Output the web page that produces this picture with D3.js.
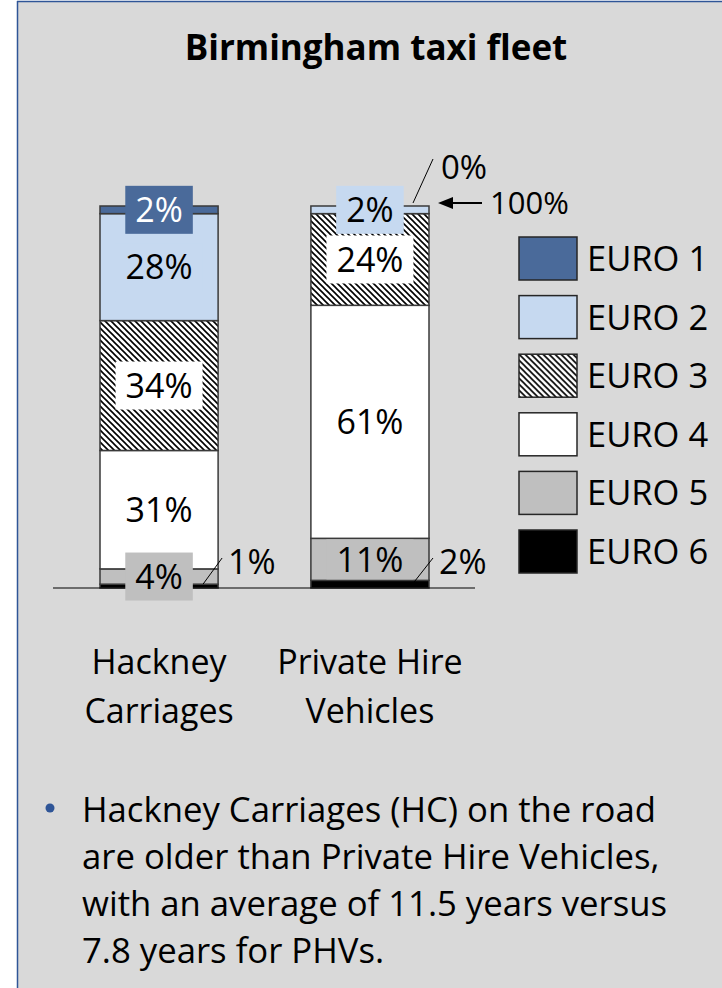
<!DOCTYPE html>
<html>
<head>
<meta charset="utf-8">
<script src="https://cdn.jsdelivr.net/npm/d3@7"></script>
<style>
  body { margin: 0; background: #fff; }
  svg { display: block; }
  text { font-family: "Open Sans", sans-serif; }
</style>
</head>
<body>
<svg id="chart" width="722" height="988"></svg>
<script>
const title = "Birmingham taxi fleet";
const categories = ["Hackney Carriages", "Private Hire Vehicles"];
const categoryLines = [["Hackney", "Carriages"], ["Private Hire", "Vehicles"]];
const series = ["EURO 1", "EURO 2", "EURO 3", "EURO 4", "EURO 5", "EURO 6"];
// share of fleet (%) per euro class, same order as series
const hackneyShares = [2, 28, 34, 31, 4, 1];
const privateHireShares = [0, 2, 24, 61, 11, 2];
const totalLabel = "100%";
const bulletLines = [
  "Hackney Carriages (HC) on the road",
  "are older than Private Hire Vehicles,",
  "with an average of 11.5 years versus",
  "7.8 years for PHVs."
];

const svg = d3.select("#chart");
const W = 722, H = 988;

// panel
svg.append("rect").attr("x", 17).attr("y", 1).attr("width", W - 17).attr("height", H)
  .attr("fill", "#d9d9d9");
svg.append("line").attr("x1", 17.5).attr("x2", 17.5).attr("y1", 1).attr("y2", H)
  .attr("stroke", "#2f5597").attr("stroke-width", 1.5);
svg.append("line").attr("x1", 17).attr("x2", W).attr("y1", 1.5).attr("y2", 1.5)
  .attr("stroke", "#2f5597").attr("stroke-width", 1.5);

// hatch for EURO 3
const defs = svg.append("defs");
const pat = defs.append("pattern").attr("id", "hatch")
  .attr("patternUnits", "userSpaceOnUse").attr("width", 6).attr("height", 6);
pat.append("rect").attr("width", 6).attr("height", 6).attr("fill", "#fff");
pat.append("path").attr("d", "M0,0L6,6M5,-1L7,1M-1,5L1,7")
  .attr("stroke", "#000").attr("stroke-width", 1.6);

const color = d3.scaleOrdinal()
  .domain(series)
  .range(["#4a6a9a", "#c6d9f0", "url(#hatch)", "#ffffff", "#bfbfbf", "#000000"]);
const boxFill = s => (s === "EURO 3" || s === "EURO 4") ? "#ffffff" : color(s);
const textFill = s => s === "EURO 1" ? "#ffffff" : "#000000";

svg.append("text")
  .attr("x", 376).attr("y", 60)
  .attr("text-anchor", "middle")
  .attr("font-size", 35).attr("font-weight", 700)
  .text(title);

const rows = categories.map((c, i) => {
  const vals = [hackneyShares, privateHireShares][i];
  const r = { category: c };
  series.forEach((s, j) => r[s] = vals[j]);
  return r;
});
const layers = d3.stack().keys(series.slice().reverse())(rows);

const x = d3.scaleBand().domain(categories).range([100, 429]).paddingInner(0.44).paddingOuter(0);
const y = d3.scaleLinear().domain([0, 100]).range([588, 206]);
const bw = x.bandwidth();

// stacked segments
const layerG = svg.selectAll(".layer").data(layers).enter().append("g").attr("class", "layer");
layerG.selectAll("rect")
  .data(d => d.map(v => Object.assign(v, { key: d.key })))
  .enter().append("rect")
  .attr("x", d => x(d.data.category))
  .attr("y", d => y(d[1]))
  .attr("width", bw)
  .attr("height", d => y(d[0]) - y(d[1]))
  .attr("fill", d => color(d.key))
  .attr("stroke", "#3a3a3a")
  .attr("stroke-width", 1.5);

// axis baseline
svg.append("line")
  .attr("x1", x.range()[0] - 47).attr("x2", x.range()[1] + 46)
  .attr("y1", y(0)).attr("y2", y(0))
  .attr("stroke", "#000").attr("stroke-width", 1.2);

// value labels
const allSegs = layers.flatMap(l => l);
const fs = 34;
allSegs.forEach(d => {
  const v = d[1] - d[0];
  const left = x(d.data.category), right = left + bw;
  const label = v + "%";
  if (v === 0) {
    const top = y(d[1]);
    svg.append("line").attr("x1", right - 16).attr("y1", top - 3)
      .attr("x2", right + 4).attr("y2", top - 47)
      .attr("stroke", "#000").attr("stroke-width", 1);
    svg.append("text").attr("x", right + 12).attr("y", top - 27)
      .attr("font-size", 33).text(label);
  } else if (d.key === "EURO 6") {
    const cy = (y(d[0]) + y(d[1])) / 2;
    svg.append("line").attr("x1", right - 15).attr("y1", cy - 2)
      .attr("x2", right + 4).attr("y2", y(0) - 30)
      .attr("stroke", "#000").attr("stroke-width", 1);
    svg.append("text").attr("x", right + 10).attr("y", y(0) - 14)
      .attr("font-size", fs).text(label);
  } else {
    const cx = left + bw / 2, cy = (y(d[0]) + y(d[1])) / 2;
    const segH = y(d[0]) - y(d[1]);
    const g = svg.append("g");
    const box = g.append("rect").attr("fill", boxFill(d.key));
    const t = g.append("text").attr("x", cx).attr("y", cy + fs * 0.36)
      .attr("text-anchor", "middle").attr("font-size", fs)
      .attr("fill", textFill(d.key)).text(label);
    const tw = t.node().getComputedTextLength() + 20;
    // label box stays inside a segment that is tall enough to hold the text
    const bh = segH > 30 ? Math.min(48, segH - 2) : 48;
    box.attr("x", cx - tw / 2).attr("y", cy - bh / 2).attr("width", tw).attr("height", bh);
  }
});

// "<- 100%" marker on the last bar
const lastRight = x(categories[categories.length - 1]) + bw;
const ay = y(100) - 3;
svg.append("line").attr("x1", lastRight + 20).attr("x2", lastRight + 53)
  .attr("y1", ay).attr("y2", ay).attr("stroke", "#000").attr("stroke-width", 2);
svg.append("path")
  .attr("d", `M${lastRight + 9},${ay}L${lastRight + 24},${ay - 6}L${lastRight + 24},${ay + 6}Z`)
  .attr("fill", "#000");
svg.append("text").attr("x", lastRight + 61).attr("y", ay + 11)
  .attr("font-size", 31).text(totalLabel);

// legend
const legend = svg.append("g").attr("transform", "translate(519,237)");
const li = legend.selectAll("g").data(series).enter().append("g")
  .attr("transform", (d, i) => `translate(0,${i * 58.6})`);
li.append("rect").attr("width", 58).attr("height", 43)
  .attr("fill", d => color(d)).attr("stroke", "#262626").attr("stroke-width", 1.5);
li.append("text").attr("x", 68).attr("y", 21.5 + 12.5)
  .attr("font-size", 34.5).text(d => d);

// category labels
categories.forEach((c, i) => {
  const cx = x(c) + bw / 2;
  categoryLines[i].forEach((line, k) => {
    svg.append("text").attr("x", cx).attr("y", 674 + k * 49)
      .attr("text-anchor", "middle").attr("font-size", 34).text(line);
  });
});

// bullet text
svg.append("circle").attr("cx", 50).attr("cy", 808).attr("r", 4.5).attr("fill", "#2f5597");
svg.selectAll(".bullet").data(bulletLines).enter().append("text")
  .attr("class", "bullet")
  .attr("x", 82).attr("y", (d, i) => 822 + i * 47)
  .attr("font-size", 34.7).text(d => d);
</script>
</body>
</html>
